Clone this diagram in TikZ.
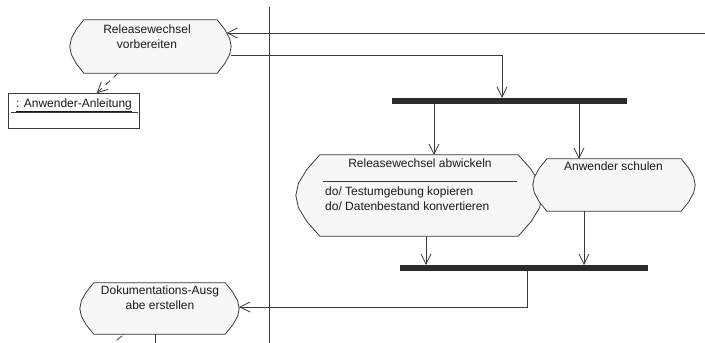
\documentclass[tikz,border=0pt]{standalone}
\usepackage{fontspec}
\setmainfont{Liberation Sans}
\usetikzlibrary{arrows.meta,calc}

\definecolor{linegray}{HTML}{3A3A3A}
\definecolor{actfill}{HTML}{F7F7F7}
\definecolor{barcol}{HTML}{2B2B2B}
\definecolor{txtcol}{HTML}{1A1A1A}

\tikzset{
  line/.style={draw=linegray, line width=0.8pt},
  arr/.style={line, -{Straight Barb[length=10pt,width=10pt,line width=0.8pt]}},
  deparr/.style={arr, dash pattern=on 6pt off 5pt},
  shapebox/.style={draw=none, inner sep=0, minimum width=#1},
  outline/.style={line, fill=actfill},
  objbox/.style={line, fill=white, inner sep=0},
  syncbar/.style={fill=barcol, draw=none, inner sep=0, minimum height=6},
  txt/.style={font=\fontsize{12}{15}\selectfont, inner sep=0, text=txtcol},
}

% activity outline around an (invisible) node: #1 = side inset, #2 = node name
\newcommand\actoutline[2]{%
  \filldraw[outline] ([xshift=#1]#2.north west)
    -- ([xshift=-#1]#2.north east)
    -- ($(#2.north east)!0.18!(#2.south east)+(-0.46*#1,0)$)
    -- ($(#2.north east)!0.35!(#2.south east)+(-0.11*#1,0)$)
    -- (#2.east)
    -- ($(#2.north east)!0.65!(#2.south east)+(-0.11*#1,0)$)
    -- ($(#2.north east)!0.82!(#2.south east)+(-0.46*#1,0)$)
    -- ([xshift=-#1]#2.south east)
    -- ([xshift=#1]#2.south west)
    -- ($(#2.north west)!0.82!(#2.south west)+(0.46*#1,0)$)
    -- ($(#2.north west)!0.65!(#2.south west)+(0.11*#1,0)$)
    -- (#2.west)
    -- ($(#2.north west)!0.35!(#2.south west)+(0.11*#1,0)$)
    -- ($(#2.north west)!0.18!(#2.south west)+(0.46*#1,0)$)
    -- cycle;}

\begin{document}
\begin{tikzpicture}[x=1pt, y=-1pt]
  \useasboundingbox (0,0) rectangle (705,343);
  \clip (0,0) rectangle (705,343);

  % swimlane divider
  \coordinate (laneTop) at (269,7);
  \coordinate (laneBot) at (269,343);
  \draw[line] (laneTop) -- (laneBot);

  % activity: prepare release change
  \node[shapebox=161, minimum height=53] (prep) at (150.5,46.5) {};
  \actoutline{14}{prep}
  \node[txt, anchor=north, align=center] (prepT) at (147,24.5) {Releasewechsel\\vorbereiten};

  % object
  \node[objbox, minimum width=131, minimum height=35] (obj) at (73.7,111.1) {};
  \node[txt, anchor=north] (objT) at (74,98.9) {\underline{: Anwender-Anleitung}};
  \draw[line] ($(obj.north west)+(3.5,19.5)$) -- ($(obj.north east)+(-2,19.5)$);

  % fork bar
  \node[syncbar, minimum width=235] (fork) at (509.5,101) {};

  % activity: carry out release change
  \node[shapebox=246, minimum height=81] (run) at (419,195.5) {};
  \actoutline{24}{run}
  \node[txt, anchor=north] (runT) at (420,158.2) {Releasewechsel abwickeln};
  \draw[line] ($(run.north)+(-96,27)$) -- ($(run.north)+(98,27)$);
  \node[txt, anchor=north west, align=left] (runDo) at (325,186.2)
    {do/ Testumgebung kopieren\\do/ Datenbestand konvertieren};

  % activity: train users
  \node[shapebox=162, minimum height=52] (train) at (614,185) {};
  \actoutline{14}{train}
  \node[txt, anchor=north] (trainT) at (613.5,162) {Anwender schulen};

  % join bar
  \node[syncbar, minimum width=248] (join) at (524,268) {};

  % activity: create documentation issue
  \node[shapebox=159, minimum height=51] (doc) at (159.5,308.5) {};
  \actoutline{14}{doc}
  \node[txt, anchor=north, align=center] (docT) at (160,285.2) {Dokumentations-Ausg\\abe erstellen};

  % transitions
  \coordinate (inR) at (705,33);
  \draw[arr] (inR) -- ([xshift=-4.5]inR -| prep.east);
  \draw[arr] ([yshift=-8.5]prep.east) -| ([xshift=-7.5]fork.north);
  \draw[arr] ([xshift=-75.5]fork.south) -- ([xshift=-75.5]fork.south |- run.north);
  \draw[arr] ([xshift=69.5]fork.south) -- ([xshift=69.5]fork.south |- train.north);
  \draw[arr] ([xshift=7]run.south) -- ([xshift=7]run.south |- join.north);
  \draw[arr] ([xshift=-30]train.south) -- ([xshift=-30]train.south |- join.north);
  \draw[arr] ([xshift=3]join.south) |- ([yshift=1.5]doc.east);
  \draw[deparr] ([xshift=-32.5]prep.south) -- ([xshift=23]obj.north);

  % outgoing flows below the documentation activity
  \coordinate (docOut) at (155,348);
  \coordinate (docDep) at (110,346);
  \draw[line] ([xshift=-4.5]doc.south) -- (docOut);
  \draw[line, dash pattern=on 1pt off 1.5pt on 7pt off 8pt] ([xshift=-35.5]doc.south) -- (docDep);
\end{tikzpicture}
\end{document}
